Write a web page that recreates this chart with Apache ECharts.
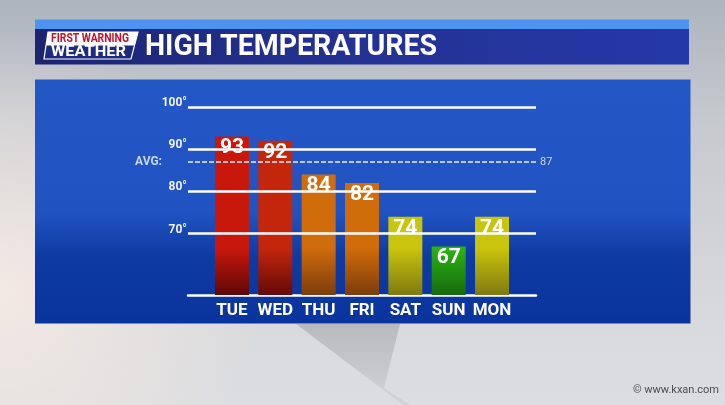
<!DOCTYPE html>
<html>
<head>
<meta charset="utf-8">
<script src="https://cdn.jsdelivr.net/npm/echarts@6/dist/echarts.min.js"></script>
<style>
html,body{margin:0;padding:0;background:#cfd1d5;}
#chart{width:725px;height:405px;}
</style>
</head>
<body>
<div id="chart"></div>
<script>
// ---- data ----
const days = ['TUE', 'WED', 'THU', 'FRI', 'SAT', 'SUN', 'MON'];
const highs = [93, 92, 84, 82, 74, 67, 74];
const avgHigh = 87;
const gridTicks = [70, 80, 90, 100];
const titleText = 'HIGH TEMPERATURES';
const logoTop = 'FIRST WARNING';
const logoBottom = 'WEATHER';
const credit = '© www.kxan.com';

// ---- styles ----
const FONT = "Roboto,'Liberation Sans',sans-serif";
function barColors(v) {
  if (v >= 93) return ['#c8180c', '#5e0707'];
  if (v >= 90) return ['#c4260c', '#640a08'];
  if (v >= 80) return ['#d06c0a', '#7e3c0c'];
  if (v >= 70) return ['#c9c50c', '#7f7a10'];
  return ['#2bb210', '#176a0e'];
}
function barGrad(v) {
  const c = barColors(v);
  return {
    type: 'linear', x: 0, y: 248, x2: 0, y2: 295, global: true,
    colorStops: [{ offset: 0, color: c[0] }, { offset: 1, color: c[1] }]
  };
}
const measureCtx = document.createElement('canvas').getContext('2d');
function fitText(text, font, x, y, width, fill, align) {
  measureCtx.font = font;
  const w = measureCtx.measureText(text).width;
  return {
    type: 'text', z: -3, silent: true,
    x: x, y: y, scaleX: width / w, originX: 0, originY: 0,
    style: { text: text, x: 0, y: 0, align: align || 'left', verticalAlign: 'middle', fill: fill, font: font }
  };
}

const chart = echarts.init(document.getElementById('chart'), null, { renderer: 'canvas' });

const gridLineData = gridTicks.map(t => ({
  yAxis: t,
  label: { formatter: t + '°' }
}));

const option = {
  animation: false,
  backgroundColor: {
    type: 'linear', x: 0, y: 0, x2: 0, y2: 1,
    colorStops: [
      { offset: 0, color: '#aeb4be' },
      { offset: 0.3, color: '#c6c9cf' },
      { offset: 0.8, color: '#d9dadd' },
      { offset: 1, color: '#dcdde0' }
    ]
  },
  graphic: [
    // left light haze
    {
      type: 'rect', z: -20, silent: true,
      shape: { x: 0, y: 0, width: 725, height: 405 },
      style: {
        fill: {
          type: 'radial', x: 0, y: 290, r: 260, global: true,
          colorStops: [
            { offset: 0, color: 'rgba(244,234,228,0.95)' },
            { offset: 1, color: 'rgba(244,234,228,0)' }
          ]
        }
      }
    },
    // faint sliver in the backdrop
    {
      type: 'polygon', z: -19, silent: true,
      shape: { points: [[296, 324], [400, 324], [384, 388], [418, 410], [410, 410]] },
      style: {
        fill: {
          type: 'linear', x: 0, y: 0, x2: 0, y2: 1,
          colorStops: [
            { offset: 0, color: '#b8babe' },
            { offset: 1, color: '#d4d5d8' }
          ]
        }
      }
    },
    // chart panel
    {
      type: 'rect', z: -10, silent: true,
      shape: { x: 35, y: 79.5, width: 655.5, height: 244 },
      style: {
        fill: {
          type: 'linear', x: 0, y: 0, x2: 0, y2: 1,
          colorStops: [
            { offset: 0, color: '#2457c6' },
            { offset: 0.55, color: '#2152c2' },
            { offset: 0.72, color: '#0e3aa4' },
            { offset: 1, color: '#0a349d' }
          ]
        }
      }
    },
    // title bar light strip
    {
      type: 'rect', z: -10, silent: true,
      shape: { x: 35, y: 19.5, width: 654, height: 9.5 },
      style: { fill: '#4f93f0' }
    },
    // title bar
    {
      type: 'rect', z: -10, silent: true,
      shape: { x: 35, y: 29, width: 654, height: 35.5 },
      style: {
        fill: {
          type: 'linear', x: 0, y: 0, x2: 1, y2: 0,
          colorStops: [
            { offset: 0, color: '#1b2470' },
            { offset: 0.4, color: '#22318f' },
            { offset: 1, color: '#2538a8' }
          ]
        }
      }
    },
    // logo
    {
      type: 'polygon', z: -5, silent: true,
      shape: { points: [[48, 32], [138, 32], [131, 59], [44, 59]] },
      style: { fill: '#1d2a82', stroke: '#ffffff', lineWidth: 1.2 }
    },
    {
      type: 'polygon', z: -4, silent: true,
      shape: { points: [[48, 32], [138, 32], [134.5, 45.5], [46, 45.5]] },
      style: { fill: '#ffffff' }
    },
    fitText(logoTop, 'bold 12px ' + FONT, 51, 39, 78, '#c8102e'),
    fitText(logoBottom, 'bold 15px ' + FONT, 51, 52.5, 75, '#ffffff'),
    // title
    fitText(titleText, 'bold 30px ' + FONT, 145, 47, 292, '#ffffff'),
    // watermark
    {
      type: 'text', z: -3, silent: true,
      style: {
        text: credit, x: 719, y: 390, align: 'right', verticalAlign: 'middle',
        fill: '#4a4c50', font: '11px ' + FONT
      }
    }
  ],
  grid: [
    { left: 188, right: 189, top: 107, bottom: 110 },
    { left: 210.3, right: 211.3, top: 107, bottom: 110 }
  ],
  xAxis: [
    {
      gridIndex: 0, type: 'value', min: 0, max: 1,
      axisLine: { show: true, onZero: false, lineStyle: { color: '#ffffff', width: 2.5 } },
      axisTick: { show: false }, axisLabel: { show: false }, splitLine: { show: false }
    },
    {
      gridIndex: 1, type: 'category', data: days,
      axisLine: { show: false }, axisTick: { show: false }, splitLine: { show: false },
      axisLabel: {
        interval: 0, color: '#ffffff', fontSize: 17, fontWeight: 'bold', fontFamily: FONT, margin: 7
      }
    }
  ],
  yAxis: [
    {
      gridIndex: 0, type: 'value', min: 55.5, max: 100,
      axisLine: { show: false }, axisTick: { show: false }, axisLabel: { show: false },
      splitLine: { show: false }
    },
    {
      gridIndex: 1, type: 'value', min: 55.5, max: 100,
      axisLine: { show: false }, axisTick: { show: false }, axisLabel: { show: false },
      splitLine: { show: false }
    }
  ],
  series: [
    {
      type: 'line', xAxisIndex: 0, yAxisIndex: 0, data: [], z: 1, silent: true,
      markLine: {
        silent: true, symbol: 'none', animation: false,
        lineStyle: { color: '#ffffff', width: 2.5, type: 'solid' },
        label: {
          show: true, position: 'start', distance: 1, verticalAlign: 'bottom', lineHeight: 8,
          color: '#eef2fb', fontSize: 12, fontWeight: 'bold', fontFamily: FONT
        },
        emphasis: { disabled: true },
        data: gridLineData.concat([
          {
            yAxis: avgHigh,
            lineStyle: { type: [5, 2], width: 1.5, color: '#e8eefa' },
            label: { formatter: 'AVG:', distance: 26, verticalAlign: 'middle', lineHeight: 13, color: '#c9d6f2', fontSize: 12 }
          },
          {
            yAxis: avgHigh,
            lineStyle: { color: 'rgba(0,0,0,0)', width: 1 },
            label: { formatter: String(avgHigh), position: 'end', distance: 4, verticalAlign: 'middle', lineHeight: 13, color: '#d0d8ea', fontSize: 11, fontWeight: 'normal' }
          }
        ])
      }
    },
    {
      type: 'bar', xAxisIndex: 1, yAxisIndex: 1, z: 3, barWidth: 34,
      data: highs.map(v => ({ value: v, itemStyle: { color: barGrad(v) } })),
      label: {
        show: true, position: 'insideTop', distance: 1,
        color: '#ffffff', fontSize: 21, fontWeight: 'bold', fontFamily: FONT
      }
    }
  ]
};
chart.setOption(option);
</script>
</body>
</html>
